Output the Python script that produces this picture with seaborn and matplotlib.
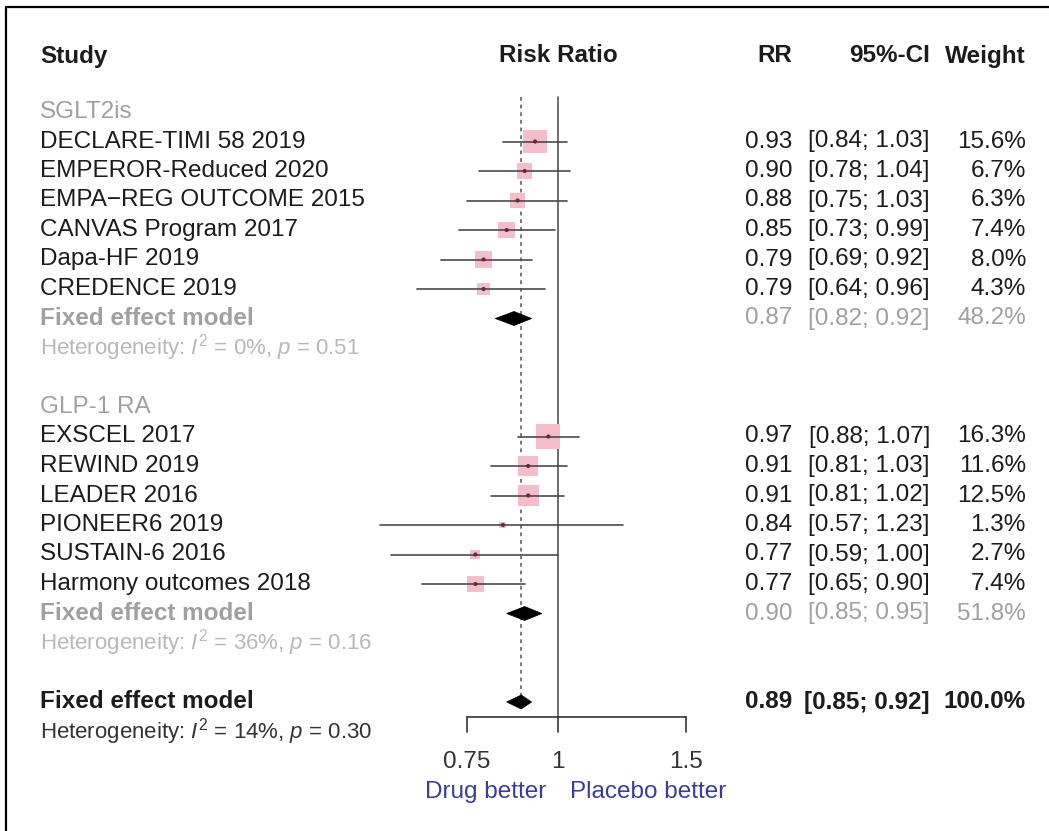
import numpy as np
import pandas as pd
import matplotlib
matplotlib.use("Agg")
import matplotlib.pyplot as plt
import seaborn as sns
from matplotlib.patches import Polygon

sns.set_theme(style="white")
plt.rcParams['font.family'] = ['Liberation Sans', 'DejaVu Sans']
plt.rcParams['mathtext.fontset'] = 'custom'
plt.rcParams['mathtext.rm'] = 'Liberation Sans'
plt.rcParams['mathtext.it'] = 'Liberation Sans:italic'
plt.rcParams['mathtext.bf'] = 'Liberation Sans:bold'

# ---------------- data ----------------
groups = ["SGLT2is", "GLP-1 RA"]
sglt_studies = ["DECLARE-TIMI 58 2019", "EMPEROR-Reduced 2020", "EMPA\u2212REG OUTCOME 2015",
                "CANVAS Program 2017", "Dapa-HF 2019", "CREDENCE 2019"]
sglt_rr = [0.93, 0.90, 0.88, 0.85, 0.79, 0.79]
sglt_lo = [0.84, 0.78, 0.75, 0.73, 0.69, 0.64]
sglt_hi = [1.03, 1.04, 1.03, 0.99, 0.92, 0.96]
sglt_w = [15.6, 6.7, 6.3, 7.4, 8.0, 4.3]

glp_studies = ["EXSCEL 2017", "REWIND 2019", "LEADER 2016", "PIONEER6 2019",
               "SUSTAIN-6 2016", "Harmony outcomes 2018"]
glp_rr = [0.97, 0.91, 0.91, 0.84, 0.77, 0.77]
glp_lo = [0.88, 0.81, 0.81, 0.57, 0.59, 0.65]
glp_hi = [1.07, 1.03, 1.02, 1.23, 1.00, 0.90]
glp_w = [16.3, 11.6, 12.5, 1.3, 2.7, 7.4]

sub_rr = [0.87, 0.90]
sub_lo = [0.82, 0.85]
sub_hi = [0.92, 0.95]
sub_w = [48.2, 51.8]
sub_het = [r"Heterogeneity: $I^2$ = 0%, $p$ = 0.51", r"Heterogeneity: $I^2$ = 36%, $p$ = 0.16"]

overall_rr = 0.89
overall_lo = 0.85
overall_hi = 0.92
overall_w = 100.0
overall_het = r"Heterogeneity: $I^2$ = 14%, $p$ = 0.30"

ticks = [0.75, 1, 1.5]
tick_labels = ["0.75", "1", "1.5"]
left_label = "Drug better"
right_label = "Placebo better"

# ---------------- layout ----------------
W, H = 1049, 831
fig = plt.figure(figsize=(W / 100, H / 100), dpi=100)
row0, pitch = 112, 29.5
def ypx(r):
    return row0 + pitch * r

BLACK = "#1c1c1c"
GREY = "#a0a0a0"
LGREY = "#b8b8b8"
BLUE = "#3b3ba6"
PINK = "#f5bccb"
FS = 17.5
FS_HET = 16.0

# forest axes: log x, rows y
fx0, fx1 = 360, 740
x_one = 558
ppu = 316.0
xlim = (np.exp((fx0 - x_one) / ppu), np.exp((fx1 - x_one) / ppu))
ax = fig.add_axes([fx0 / W, 0, (fx1 - fx0) / W, 1])
ax.set_xscale("log")
ax.set_xlim(*xlim)
ax.set_ylim((H - row0) / pitch, -row0 / pitch)
ax.axis("off")

# text axes in pixel coords
tx = fig.add_axes([0, 0, 1, 1], zorder=-1)
tx.set_xlim(0, W)
tx.set_ylim(H, 0)
tx.axis("off")

# rows
sglt_rows = list(range(1, 7))
glp_rows = list(range(11, 17))
sub_rows = [7, 17]
het_rows = [8, 18]
grp_rows = [0, 10]
overall_row = 20

df = pd.DataFrame({
    "study": sglt_studies + glp_studies,
    "rr": sglt_rr + glp_rr,
    "lo": sglt_lo + glp_lo,
    "hi": sglt_hi + glp_hi,
    "w": sglt_w + glp_w,
    "row": sglt_rows + glp_rows,
})

# reference lines
ax.plot([1, 1], [-0.5, 20.5], color="#555555", lw=1.2, zorder=1)
ax.plot([overall_rr, overall_rr], [-0.5, overall_row], color="#555555", lw=1.1,
        ls=(0, (2.5, 2.5)), zorder=1)

# squares
sns.scatterplot(data=df, x="rr", y="row", size="w", sizes=(0, 18.7 * 20), size_norm=(0, 20),
                marker="s", color=PINK, edgecolor="none", linewidth=0, legend=False,
                ax=ax, zorder=2)
# CI lines
for _, r in df.iterrows():
    ax.plot([r["lo"], r["hi"]], [r["row"], r["row"]], color="#4a4a4a", lw=1.2, zorder=3)
# centre points
sns.scatterplot(data=df, x="rr", y="row", s=9, color="#6a2a3c", edgecolor="none",
                legend=False, ax=ax, zorder=4)

# diamonds
dh = 7.0 / pitch
def diamond(rr, lo, hi, row):
    pts = [(lo, row), (rr, row - dh), (hi, row), (rr, row + dh)]
    ax.add_patch(Polygon(pts, closed=True, facecolor="black", edgecolor="black", lw=0.5, zorder=5))
for i in range(2):
    diamond(sub_rr[i], sub_lo[i], sub_hi[i], sub_rows[i])
diamond(overall_rr, overall_lo, overall_hi, overall_row)

# x axis
axis_y = 717
ay = (axis_y - row0) / pitch
ax.plot([ticks[0], ticks[-1]], [ay, ay], color="#333333", lw=1.2, clip_on=False)
for t, lab in zip(ticks, tick_labels):
    ax.plot([t, t], [ay, ay + 15 / pitch], color="#333333", lw=1.2, clip_on=False)
    ax.text(t, (762 - row0) / pitch, lab, ha="center", va="center", fontsize=FS, color="#333333")
ax.text(np.exp((546 - x_one) / ppu), (792 - row0) / pitch, left_label, ha="right", va="center",
        fontsize=FS, color=BLUE)
ax.text(np.exp((570 - x_one) / ppu), (792 - row0) / pitch, right_label, ha="left", va="center",
        fontsize=FS, color=BLUE)

# header
hy = 56
xs, xrr, xci, xw = 40, 792, 930, 1026
tx.text(xs, hy, "Study", ha="left", va="center", fontsize=FS, weight="bold", color=BLACK)
tx.text(x_one, hy, "Risk Ratio", ha="center", va="center", fontsize=FS, weight="bold", color=BLACK)
tx.text(xrr, hy, "RR", ha="right", va="center", fontsize=FS, weight="bold", color=BLACK)
tx.text(xci, hy, "95%-CI", ha="right", va="center", fontsize=FS, weight="bold", color=BLACK)
tx.text(xw, hy, "Weight", ha="right", va="center", fontsize=FS, weight="bold", color=BLACK)

def row_text(row, label, rr, lo, hi, w, color, weight="normal", lweight=None):
    y = ypx(row)
    tx.text(xs, y, label, ha="left", va="center", fontsize=FS, color=color,
            weight=lweight or weight)
    tx.text(xrr, y, f"{rr:.2f}", ha="right", va="center", fontsize=FS, color=color, weight=weight)
    tx.text(xci, y, f"[{lo:.2f}; {hi:.2f}]", ha="right", va="center", fontsize=FS, color=color,
            weight=weight)
    tx.text(xw, y, f"{w:.1f}%", ha="right", va="center", fontsize=FS, color=color, weight=weight)

for _, r in df.iterrows():
    row_text(r["row"], r["study"], r["rr"], r["lo"], r["hi"], r["w"], BLACK)
for i in range(2):
    tx.text(xs, ypx(grp_rows[i]), groups[i], ha="left", va="center", fontsize=FS, color=GREY)
    row_text(sub_rows[i], "Fixed effect model", sub_rr[i], sub_lo[i], sub_hi[i], sub_w[i], GREY,
             lweight="bold")
    tx.text(xs, ypx(het_rows[i]), sub_het[i], ha="left", va="center", fontsize=FS_HET, color=LGREY)
row_text(overall_row, "Fixed effect model", overall_rr, overall_lo, overall_hi, overall_w, BLACK,
         weight="bold")
tx.text(xs, ypx(overall_row + 1), overall_het, ha="left", va="center", fontsize=FS_HET, color="#333333")

# frame (top and left)
tx.plot([6, W], [7, 7], color="black", lw=1.6, clip_on=False)
tx.plot([6, 6], [7, H], color="black", lw=1.6, clip_on=False)

fig.savefig("out.png", dpi=100, facecolor="white")
